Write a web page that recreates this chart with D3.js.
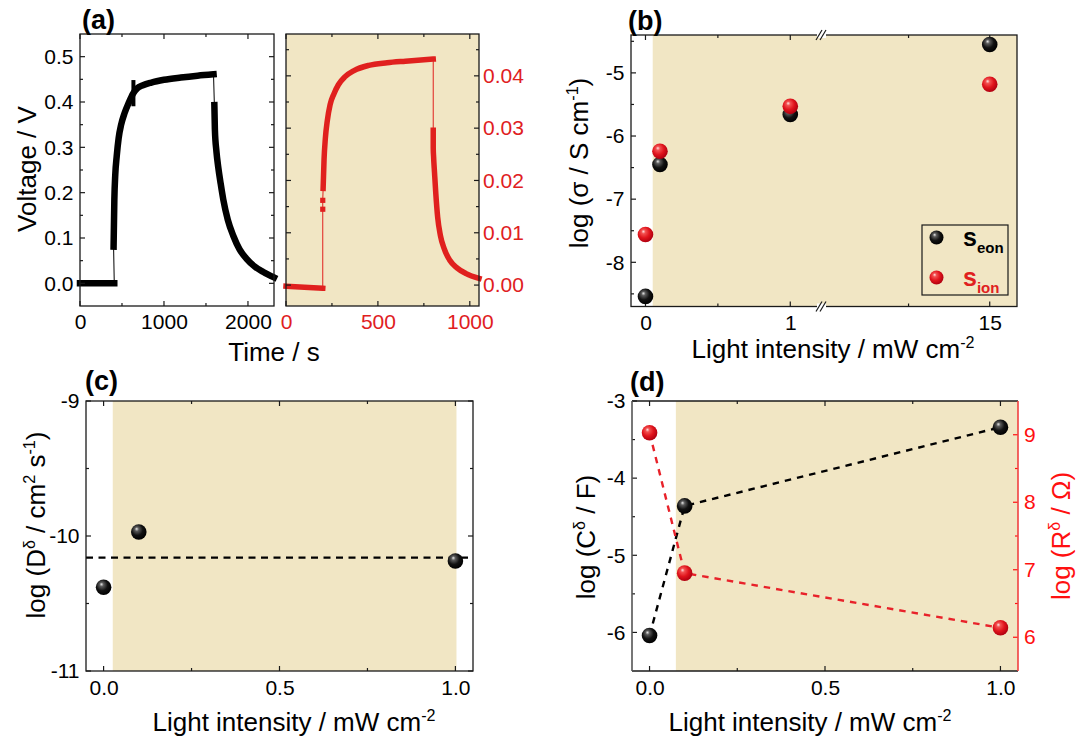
<!DOCTYPE html>
<html><head><meta charset="utf-8">
<script src="https://cdn.jsdelivr.net/npm/d3@7/dist/d3.min.js"></script>
<style>body{margin:0;background:#fff}svg{display:block}text{font-family:"Liberation Sans",Arial,sans-serif}</style>
</head><body>
<svg id="chart" width="1077" height="743"></svg>
<script>
// ---------------- DATA ----------------
// Panel (a) left: voltage transient (time s, V), black
const aBlackFlat = [[0,0],[50,0],[100,0],[150,0],[200,0],[250,0],[300,0],[350,0],[400,0],[408,0]];
const aBlackRise = [[400,0.081],[409,0.185],[420,0.24],[437,0.28],[460,0.32],[490,0.35],[530,0.375],[580,0.398],[630,0.418],[680,0.43],[750,0.437],[850,0.443],[1000,0.449],[1200,0.454],[1400,0.458],[1590,0.461]];
const aBlackGlitch = [[636,0.395],[636,0.444]];
const aBlackDecay = [[1600,0.393],[1606,0.34],[1625,0.29],[1647,0.255],[1675,0.22],[1706,0.185],[1760,0.14],[1825,0.105],[1900,0.075],[1984,0.054],[2080,0.037],[2183,0.025],[2310,0.013]];
// Panel (a) right: red transient
const aRedFlat = [[0,-0.0002],[50,-0.0003],[100,-0.0004],[150,-0.0005],[200,-0.0006]];
const aRedJump = [[200,0.0145],[200,0.0162]];
const aRedRise = [[202,0.0185],[207,0.024],[214,0.028],[225,0.0315],[240,0.0345],[260,0.0365],[285,0.0383],[320,0.0398],[370,0.041],[450,0.042],[550,0.0425],[650,0.0428],[801,0.0432]];
const aRedDecay = [[801,0.0296],[801,0.0262],[803,0.0245],[808,0.0215],[815,0.0175],[825,0.013],[840,0.0095],[860,0.007],[890,0.0048],[930,0.0033],[980,0.0022],[1050,0.0013]];
// Panel (b): log conductivity vs light intensity
const bIntensity = [0, 0.1, 1, 15];
const bEon = [-8.54, -6.45, -5.66, -4.55];
const bIon = [-7.56, -6.24, -5.53, -5.18];
// Panel (c): log D
const cIntensity = [0, 0.1, 1.0];
const cLogD = [-10.38, -9.97, -10.185];
const cMeanLine = -10.16;
// Panel (d): log C and log R
const dIntensity = [0, 0.1, 1.0];
const dLogC = [-6.04, -4.36, -3.34];
const dLogR = [9.03, 6.95, 6.14];
// Tick values
const aLeftXMajor = [0,1000,2000], aLeftXMinor = [500,1500];
const aLeftYMajor = [0,0.1,0.2,0.3,0.4,0.5], aLeftYMinor = [0.05,0.15,0.25,0.35,0.45];
const aRightXMajor = [0,500,1000], aRightXMinor = [250,750];
const aRightYMajor = [0,0.01,0.02,0.03,0.04], aRightYMinor = [0.005,0.015,0.025,0.035,0.045];
const bXMajor = [0,1,15], bXMinor = [0.5,10];
const bYMajor = [-8,-7,-6,-5], bYMinor = [-8.5,-7.5,-6.5,-5.5,-4.5];
const cdXMajor = [0,0.5,1.0], cdXMinor = [0.25,0.75];
const cYMajor = [-11,-10,-9], cYMinor = [-10.5,-9.5];
const dYMajor = [-6,-5,-4,-3], dYMinor = [-5.5,-4.5,-3.5];
const dRMajor = [6,7,8,9], dRMinor = [6.5,7.5,8.5];

// ---------------- STYLE ----------------
const TAN = "#f1e6c4", RED_A = "#e0201e", RED_D = "#ff1010", FRAME = "#1a1a1a";
const TICKFS = 21, TITLEFS = 26;
const svg = d3.select("#chart");
const defs = svg.append("defs");
function sphereGrad(id, c0, c1, c2, c3) {
  const g = defs.append("radialGradient").attr("id", id)
    .attr("cx", "0.42").attr("cy", "0.4").attr("r", "0.6").attr("fx", "0.36").attr("fy", "0.3");
  g.append("stop").attr("offset", "0").attr("stop-color", c0);
  g.append("stop").attr("offset", "0.22").attr("stop-color", c1);
  g.append("stop").attr("offset", "0.6").attr("stop-color", c2);
  g.append("stop").attr("offset", "1").attr("stop-color", c3);
}
sphereGrad("gBlack", "#e8e8e8", "#5a5a5a", "#121212", "#000");
sphereGrad("gRed", "#ffe0e0", "#f25050", "#e0141c", "#b00010");

function sphere(g, x, y, which, r = 7.8) {
  g.append("circle").attr("cx", x).attr("cy", y).attr("r", r).attr("fill", `url(#${which})`);
}

// parts: [text, "sup"?]; shift of superscripts is undone on the following normal part
function richText(sel, parts, baseSize) {
  const up = baseSize * 0.4;
  let raised = false;
  parts.forEach(p => {
    const [s, kind] = p;
    const t = sel.append("tspan").text(s);
    if (kind === "sup") {
      t.attr("dy", raised ? 0 : -up).attr("font-size", baseSize * 0.62);
      raised = true;
    } else {
      if (raised) t.attr("dy", up);
      raised = false;
    }
  });
  return sel;
}

function ticks(g, scale, vals, orient, pos, len, color) {
  vals.forEach(v => {
    const p = scale(v);
    let x1, y1, x2, y2;
    if (orient === "bottom") { x1 = x2 = p; y1 = pos; y2 = pos - len; }
    if (orient === "top") { x1 = x2 = p; y1 = pos; y2 = pos + len; }
    if (orient === "left") { y1 = y2 = p; x1 = pos; x2 = pos + len; }
    if (orient === "right") { y1 = y2 = p; x1 = pos; x2 = pos - len; }
    g.append("line").attr("x1", x1).attr("y1", y1).attr("x2", x2).attr("y2", y2)
      .attr("stroke", color || FRAME).attr("stroke-width", 1.2);
  });
}

function labelAxis(g, axis, transform, color) {
  const a = g.append("g").attr("transform", transform).call(axis);
  a.select(".domain").remove();
  a.selectAll(".tick line").remove();
  a.selectAll("text").attr("font-size", TICKFS).attr("fill", color || "#000")
    .style("font-family", '"Liberation Sans",Arial,sans-serif');
  return a;
}

function frame(g, L, T, R, B) {
  g.append("rect").attr("x", L).attr("y", T).attr("width", R - L).attr("height", B - T)
    .attr("fill", "none").attr("stroke", FRAME).attr("stroke-width", 1.3);
}

function panelLetter(txt, x, y) {
  svg.append("text").attr("x", x).attr("y", y).attr("font-size", 27).attr("font-weight", "bold").text(txt);
}

// ---------------- PANEL (a) ----------------
{
  const g = svg.append("g");
  const L = 80, R = 274, T = 34, B = 306;
  const x = d3.scaleLinear().domain([0, 2310]).range([L, R]);
  const y = d3.scaleLinear().domain([-0.05, 0.55]).range([B, T]);
  const line = d3.line().x(d => x(d[0])).y(d => y(d[1]));
  const sline = d3.line().x(d => x(d[0])).y(d => y(d[1])).curve(d3.curveMonotoneX);
  const all = aBlackFlat.concat(aBlackRise, aBlackDecay);
  g.append("path").attr("d", line(all)).attr("fill", "none").attr("stroke", "#000").attr("stroke-width", 1);
  [aBlackFlat, aBlackRise, aBlackDecay].forEach(seg => {
    g.append("path").attr("d", sline(seg)).attr("fill", "none").attr("stroke", "#000")
      .attr("stroke-width", 6.5).attr("stroke-linecap", "square").attr("stroke-linejoin", "round");
  });
  g.append("path").attr("d", line(aBlackGlitch)).attr("fill", "none").attr("stroke", "#000")
    .attr("stroke-width", 4).attr("stroke-linecap", "square");
  ticks(g, x, aLeftXMajor, "bottom", B, 5); ticks(g, x, aLeftXMinor, "bottom", B, 3);
  ticks(g, x, aLeftXMajor, "top", T, 5); ticks(g, x, aLeftXMinor, "top", T, 3);
  ticks(g, y, aLeftYMajor, "left", L, 5); ticks(g, y, aLeftYMinor, "left", L, 3);
  ticks(g, y, aLeftYMajor, "right", R, 5); ticks(g, y, aLeftYMinor, "right", R, 3);
  frame(g, L, T, R, B);
  labelAxis(g, d3.axisBottom(x).tickValues(aLeftXMajor).tickFormat(d3.format("d")).tickPadding(8).tickSize(0), `translate(0,${B})`);
  labelAxis(g, d3.axisLeft(y).tickValues(aLeftYMajor).tickFormat(d3.format(".1f")).tickPadding(6.5).tickSize(0), `translate(${L},0)`);
  g.append("text").attr("transform", "translate(36,169) rotate(-90)").attr("text-anchor", "middle")
    .attr("font-size", TITLEFS).text("Voltage / V");

  // right part
  const L2 = 286, R2 = 479;
  const x2 = d3.scaleLinear().domain([0, 1050]).range([L2, R2]);
  const y2 = d3.scaleLinear().domain([-0.004, 0.048]).range([B, T]);
  g.append("rect").attr("x", L2).attr("y", T).attr("width", R2 - L2).attr("height", B - T).attr("fill", TAN);
  const line2 = d3.line().x(d => x2(d[0])).y(d => y2(d[1]));
  const sline2 = d3.line().x(d => x2(d[0])).y(d => y2(d[1])).curve(d3.curveMonotoneX);
  const all2 = aRedFlat.concat(aRedJump, aRedRise, aRedDecay);
  g.append("path").attr("d", line2(all2)).attr("fill", "none").attr("stroke", RED_A).attr("stroke-width", 1);
  [aRedFlat, aRedRise, aRedDecay].forEach(seg => {
    g.append("path").attr("d", sline2(seg)).attr("fill", "none").attr("stroke", RED_A)
      .attr("stroke-width", 5.5).attr("stroke-linecap", "square").attr("stroke-linejoin", "round");
  });
  aRedJump.forEach(p => g.append("rect").attr("x", x2(p[0]) - 2.6).attr("y", y2(p[1]) - 2.6)
    .attr("width", 5.2).attr("height", 5.2).attr("fill", RED_A));
  ticks(g, x2, aRightXMajor, "bottom", B, 5); ticks(g, x2, aRightXMinor, "bottom", B, 3);
  ticks(g, x2, aRightXMajor, "top", T, 5); ticks(g, x2, aRightXMinor, "top", T, 3);
  ticks(g, y2, aRightYMajor, "left", L2, 5); ticks(g, y2, aRightYMinor, "left", L2, 3);
  ticks(g, y2, aRightYMajor, "right", R2, 5); ticks(g, y2, aRightYMinor, "right", R2, 3);
  frame(g, L2, T, R2, B);
  labelAxis(g, d3.axisBottom(x2).tickValues(aRightXMajor).tickFormat(d3.format("d")).tickPadding(8).tickSize(0), `translate(0,${B})`, RED_A);
  labelAxis(g, d3.axisRight(y2).tickValues(aRightYMajor).tickFormat(d3.format(".2f")).tickPadding(4).tickSize(0), `translate(${R2},0)`, RED_A);
  g.append("text").attr("x", 274).attr("y", 361).attr("text-anchor", "middle").attr("font-size", TITLEFS).text("Time / s");
  panelLetter("(a)", 82, 29);
}

// ---------------- PANEL (b) ----------------
{
  const g = svg.append("g");
  const L = 631, R = 1017, T = 35, B = 306.5, BRK = 823;
  const x = d3.scaleLinear().domain([-0.1, 1.226, 4.73, 16.68]).range([L, BRK, BRK, R]);
  const y = d3.scaleLinear().domain([-8.7, -4.4]).range([B, T]);
  g.append("rect").attr("x", x(0.05)).attr("y", T).attr("width", R - x(0.05)).attr("height", B - T).attr("fill", TAN);
  ticks(g, x, bXMajor, "bottom", B, 5); ticks(g, x, bXMinor, "bottom", B, 3);
  ticks(g, x, bXMajor, "top", T, 5); ticks(g, x, bXMinor, "top", T, 3);
  ticks(g, y, bYMajor, "left", L, 5); ticks(g, y, bYMinor, "left", L, 3);
  frame(g, L, T, R, B);
  // axis break marks
  [T, B].forEach(yy => {
    g.append("rect").attr("x", BRK - 6).attr("y", yy - 3).attr("width", 9).attr("height", 6).attr("fill", "#fff");
    [-4, 0].forEach(dx => {
      g.append("line").attr("x1", BRK + dx - 3).attr("y1", yy + 5).attr("x2", BRK + dx + 3).attr("y2", yy - 5)
        .attr("stroke", FRAME).attr("stroke-width", 1.2);
    });
  });
  labelAxis(g, d3.axisBottom(x).tickValues(bXMajor).tickFormat(d3.format("d")).tickPadding(8.5).tickSize(0), `translate(0,${B})`);
  labelAxis(g, d3.axisLeft(y).tickValues(bYMajor).tickFormat(d => String(d)).tickPadding(6.5).tickSize(0), `translate(${L},0)`);
  bIntensity.forEach((v, i) => sphere(g, x(v), y(bEon[i]), "gBlack"));
  bIntensity.forEach((v, i) => sphere(g, x(v), y(bIon[i]), "gRed"));
  // legend
  const lg = g.append("g");
  lg.append("rect").attr("x", 922).attr("y", 225).attr("width", 86).attr("height", 70)
    .attr("fill", TAN).attr("stroke", FRAME).attr("stroke-width", 1.2);
  sphere(lg, 936.5, 237.5, "gBlack", 7);
  sphere(lg, 936.5, 277.5, "gRed", 7);
  const t1 = lg.append("text").attr("x", 963).attr("y", 246).attr("font-weight", "bold").attr("font-size", 25);
  t1.append("tspan").text("s"); t1.append("tspan").attr("dy", 7).attr("font-size", 15).text("eon");
  const t2 = lg.append("text").attr("x", 963).attr("y", 286).attr("font-weight", "bold").attr("font-size", 25).attr("fill", RED_A);
  t2.append("tspan").text("s"); t2.append("tspan").attr("dy", 7).attr("font-size", 15).text("ion");
  richText(g.append("text").attr("x", 833).attr("y", 358).attr("text-anchor", "middle").attr("font-size", TITLEFS),
    [["Light intensity / mW cm"], ["-2", "sup"]], TITLEFS);
  richText(g.append("text").attr("transform", "translate(588,163) rotate(-90)").attr("text-anchor", "middle").attr("font-size", TITLEFS),
    [["log (σ / S cm"], ["-1", "sup"], [")"]], TITLEFS);
  panelLetter("(b)", 628, 30);
}

// ---------------- PANEL (c) ----------------
{
  const g = svg.append("g");
  const L = 86, R = 473, T = 401, B = 671;
  const x = d3.scaleLinear().domain([-0.05, 1.05]).range([L, R]);
  const y = d3.scaleLinear().domain([-11, -9]).range([B, T]);
  g.append("rect").attr("x", x(0.026)).attr("y", T).attr("width", x(1.003) - x(0.026)).attr("height", B - T).attr("fill", TAN);
  g.append("line").attr("x1", L).attr("x2", R).attr("y1", y(cMeanLine)).attr("y2", y(cMeanLine))
    .attr("stroke", "#000").attr("stroke-width", 2.4).attr("stroke-dasharray", "7,5.5");
  ticks(g, x, cdXMajor, "bottom", B, 5); ticks(g, x, cdXMinor, "bottom", B, 3);
  ticks(g, x, cdXMajor, "top", T, 5); ticks(g, x, cdXMinor, "top", T, 3);
  ticks(g, y, cYMajor, "left", L, 5); ticks(g, y, cYMinor, "left", L, 3);
  ticks(g, y, cYMajor, "right", R, 5); ticks(g, y, cYMinor, "right", R, 3);
  frame(g, L, T, R, B);
  labelAxis(g, d3.axisBottom(x).tickValues(cdXMajor).tickFormat(d3.format(".1f")).tickPadding(9).tickSize(0), `translate(0,${B})`);
  labelAxis(g, d3.axisLeft(y).tickValues(cYMajor).tickFormat(d => String(d)).tickPadding(6.5).tickSize(0), `translate(${L},0)`);
  cIntensity.forEach((v, i) => sphere(g, x(v), y(cLogD[i]), "gBlack"));
  richText(g.append("text").attr("x", 294).attr("y", 731).attr("text-anchor", "middle").attr("font-size", TITLEFS),
    [["Light intensity / mW cm"], ["-2", "sup"]], TITLEFS);
  richText(g.append("text").attr("transform", "translate(45,525) rotate(-90)").attr("text-anchor", "middle").attr("font-size", TITLEFS),
    [["log (D"], ["δ", "sup"], [" / cm"], ["2", "sup"], [" s"], ["-1", "sup"], [")"]], TITLEFS);
  panelLetter("(c)", 85, 390);
}

// ---------------- PANEL (d) ----------------
{
  const g = svg.append("g");
  const L = 632, R = 1018, T = 401, B = 671;
  const x = d3.scaleLinear().domain([-0.05, 1.05]).range([L, R]);
  const y = d3.scaleLinear().domain([-6.5, -3]).range([B, T]);
  const yr = d3.scaleLinear().domain([5.5, 9.5]).range([B, T]);
  g.append("rect").attr("x", x(0.075)).attr("y", T).attr("width", R - x(0.075)).attr("height", B - T).attr("fill", TAN);
  const lineC = d3.line().x((d, i) => x(dIntensity[i])).y(d => y(d));
  const lineR = d3.line().x((d, i) => x(dIntensity[i])).y(d => yr(d));
  g.append("path").attr("d", lineC(dLogC)).attr("fill", "none").attr("stroke", "#000").attr("stroke-width", 2.4).attr("stroke-dasharray", "6.5,6");
  g.append("path").attr("d", lineR(dLogR)).attr("fill", "none").attr("stroke", "#e8222a").attr("stroke-width", 2.4).attr("stroke-dasharray", "6.5,6");
  ticks(g, x, cdXMajor, "bottom", B, 5); ticks(g, x, cdXMinor, "bottom", B, 3);
  ticks(g, x, cdXMajor, "top", T, 5); ticks(g, x, cdXMinor, "top", T, 3);
  ticks(g, y, dYMajor, "left", L, 5); ticks(g, y, dYMinor, "left", L, 3);
  ticks(g, yr, dRMajor, "right", R, 5, RED_D); ticks(g, yr, dRMinor, "right", R, 3, RED_D);
  g.append("line").attr("x1", L).attr("x2", R).attr("y1", T).attr("y2", T).attr("stroke", FRAME).attr("stroke-width", 1.3);
  g.append("line").attr("x1", L).attr("x2", R).attr("y1", B).attr("y2", B).attr("stroke", FRAME).attr("stroke-width", 1.3);
  g.append("line").attr("x1", L).attr("x2", L).attr("y1", T).attr("y2", B).attr("stroke", "#555").attr("stroke-width", 1.6);
  g.append("line").attr("x1", R).attr("x2", R).attr("y1", T).attr("y2", B).attr("stroke", "#f04040").attr("stroke-width", 1.6);
  labelAxis(g, d3.axisBottom(x).tickValues(cdXMajor).tickFormat(d3.format(".1f")).tickPadding(9).tickSize(0), `translate(0,${B})`);
  labelAxis(g, d3.axisLeft(y).tickValues(dYMajor).tickFormat(d => String(d)).tickPadding(6.5).tickSize(0), `translate(${L},0)`);
  labelAxis(g, d3.axisRight(yr).tickValues(dRMajor).tickFormat(d3.format("d")).tickPadding(6).tickSize(0), `translate(${R},0)`, RED_D);
  dIntensity.forEach((v, i) => sphere(g, x(v), y(dLogC[i]), "gBlack"));
  dIntensity.forEach((v, i) => sphere(g, x(v), yr(dLogR[i]), "gRed"));
  richText(g.append("text").attr("x", 810).attr("y", 731).attr("text-anchor", "middle").attr("font-size", TITLEFS),
    [["Light intensity / mW cm"], ["-2", "sup"]], TITLEFS);
  richText(g.append("text").attr("transform", "translate(595,537) rotate(-90)").attr("text-anchor", "middle").attr("font-size", TITLEFS),
    [["log (C"], ["δ", "sup"], [" / F)"]], TITLEFS);
  richText(g.append("text").attr("transform", "translate(1070,536) rotate(-90)").attr("text-anchor", "middle").attr("font-size", TITLEFS).attr("fill", RED_D),
    [["log (R"], ["δ", "sup"], [" / Ω)"]], TITLEFS);
  panelLetter("(d)", 630, 391);
}
</script>
</body></html>
